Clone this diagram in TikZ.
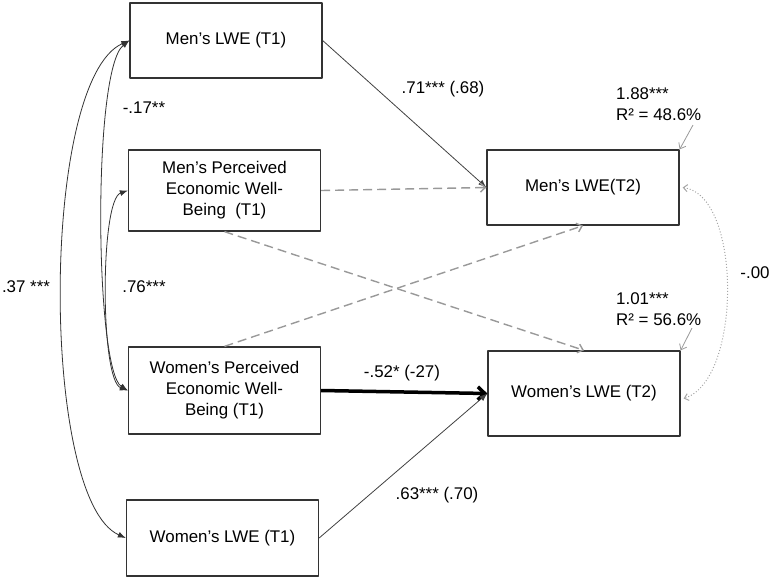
\documentclass[tikz,border=0pt]{standalone}
\usepackage{fontspec}
\setmainfont{Liberation Sans}
\usetikzlibrary{arrows.meta}
\begin{document}
\begin{tikzpicture}[x=1pt, y=-1pt, font=\fontsize{16.9}{21}\selectfont, line join=round, >={Latex[length=8pt,width=6pt]},
    box/.style={draw=black!80, line width=1.3pt, align=center, inner sep=0pt, minimum width=192pt},
    lbl/.style={inner sep=1pt, align=left},
    sigpath/.style={->, black!75, line width=0.8pt},
    nspath/.style={-{Straight Barb[length=5pt,width=9pt]}, black!40, dash pattern=on 9pt off 5pt, line width=1.4pt},
    cov/.style={<->, black!80, line width=0.8pt},
    resid/.style={-{Straight Barb[length=5pt,width=8pt]}, black!40, line width=0.8pt}]
    \useasboundingbox (0,0) rectangle (772,579);
    % time 1
    \node[box, minimum height=75pt] (mlwe1) at (226,40.5) {Men’s LWE (T1)};
    \node[box, minimum height=81pt] (mpewb1) at (224.5,190.5) {Men’s Perceived\\Economic Well-\\Being\ \ (T1)};
    \node[box, minimum height=87pt] (wpewb1) at (224.5,390.5) {Women’s Perceived\\Economic Well-\\Being (T1)};
    \node[box, minimum height=76pt] (wlwe1) at (222.5,538) {Women’s LWE (T1)};
    % time 2
    \node[box, minimum height=75pt] (mlwe2) at (583,187.5) {Men’s LWE(T2)};
    \node[box, minimum height=85pt] (wlwe2) at (584,393.5) {Women’s LWE (T2)};
    % covariances at T1
    \draw[cov] (mlwe1.west) .. controls (40,80) and (40,500) .. (wlwe1.west);
    \draw[cov] (mlwe1.west) .. controls (92,70) and (95,370) .. (wpewb1.west);
    \draw[cov] (mpewb1.west) .. controls (100,200) and (100,380) .. (wpewb1.west);
    \node[lbl] (c37) at (26,287) {.37 ***};
    \node[lbl] (c17) at (144,108) {-.17**};
    \node[lbl] (c76) at (144,287) {.76***};
    % paths
    \draw[sigpath] (mlwe1.east) -- (mlwe2.west);
    \draw[nspath] (mpewb1.east) -- (mlwe2.west);
    \draw[nspath] (mpewb1.south) -- (wlwe2.north);
    \draw[nspath] (wpewb1.north) -- (mlwe2.south);
    \draw[-{Straight Barb[length=7pt,width=13pt]}, line width=3.5pt] (wpewb1.east) -- (wlwe2.west);
    \draw[sigpath] (wlwe1.east) -- (wlwe2.west);
    \node[lbl] (b71) at (443,89) {.71*** (.68)};
    \node[lbl] (b52) at (402,373) {-.52* (-27)};
    \node[lbl] (b63) at (437,495) {.63*** (.70)};
    % residuals
    \node[lbl, anchor=west] (res1) at (615,104) {1.88***\\R² = 48.6\%};
    \node[lbl, anchor=west] (res2) at (615,309) {1.01***\\R² = 56.6\%};
    \coordinate (r1) at (693,125);
    \coordinate (r2) at (692,328);
    \draw[resid] (r1) -- (mlwe2.north east);
    \draw[resid] (r2) -- (wlwe2.north east);
    % residual covariance at T2
    \draw[{Straight Barb[length=4pt,width=7pt]}-{Straight Barb[length=4pt,width=7pt]}, black!35, dotted, line width=1pt] ([xshift=3pt]mlwe2.east) .. controls (742,195) and (742,380) .. ([xshift=3pt,yshift=-5pt]wlwe2.east);
    \node[lbl] (c00) at (755,273) {-.00};
\end{tikzpicture}
\end{document}
